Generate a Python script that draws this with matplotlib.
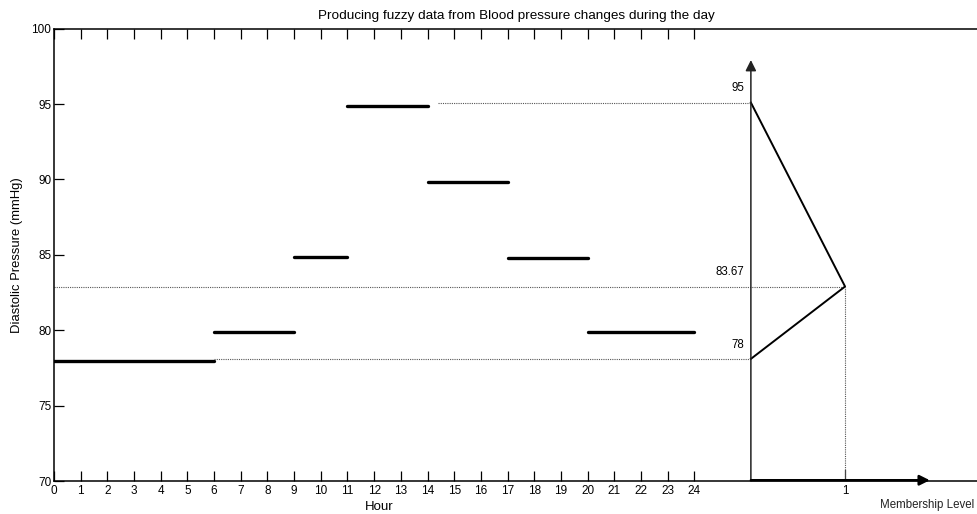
import matplotlib
matplotlib.use('Agg')
from matplotlib import pyplot as plt

plt.rcParams['font.family'] = ['Liberation Sans', 'DejaVu Sans']

# blood pressure during the day: one level per time block
seg_start = [0, 6, 9, 11, 14, 17, 20]
seg_end = [6, 9, 11, 14, 17, 20, 24]
seg_level = [77.95, 79.9, 84.85, 94.85, 89.85, 84.8, 79.85]

hours = list(range(0, 25))
y_ticks = [70, 75, 80, 85, 90, 95, 100]

# fuzzy number built from the readings (membership vs pressure)
member = [0, 1, 0]
member_bp = [95.1, 82.9, 78.1]
member_text = ['95', '83.67', '78']
guide_start = [14.4, 0, 6]   # where the dotted guides start (hour)

# where the membership axis sits inside the hour axis
m_origin = 26.12
m_unit = 3.53


def mx(m):
  return m_origin + m * m_unit


def main():
  fig = plt.figure(figsize=(9.78, 5.14), dpi=100)
  ax = fig.add_axes([54 / 978, 33 / 514, 924 / 978, 452.3 / 514])
  ax.set_xlim(0, 924 / 26.68)
  ax.set_ylim(70, 100)

  for s, e, v in zip(seg_start, seg_end, seg_level):
    ax.plot([s, e], [v, v], color='black', lw=2.4, solid_capstyle='round')

  # dotted guides
  for x0, v, m in zip(guide_start, member_bp, member):
    ax.plot([x0, mx(m)], [v, v], color='#555555', lw=0.8, ls=(0, (1, 1)))
  ax.plot([mx(1), mx(1)], [70, member_bp[1]], color='#555555', lw=0.8,
          ls=(0, (1, 1)))

  # membership triangle
  ax.plot([mx(m) for m in member], member_bp, color='black', lw=1.4)

  for v, t in zip(member_bp, member_text):
    ax.text(mx(0) - 0.25, v + 0.95, t, ha='right', va='center', fontsize=8.3)

  # membership axes with arrows
  ax.annotate('', xy=(mx(0), 97.92), xytext=(mx(0), 70),
              arrowprops=dict(arrowstyle='-|>', color='#222222', lw=1.1,
                              mutation_scale=16, shrinkA=0, shrinkB=0))
  ax.annotate('', xy=(mx(1.9), 70.05), xytext=(mx(0), 70.05),
              arrowprops=dict(arrowstyle='-|>', color='black', lw=1.8,
                              mutation_scale=15, shrinkA=0, shrinkB=0))
  ax.plot([mx(1), mx(1)], [70, 70.7], color='#444444', lw=0.9)
  ax.text(mx(1), 69.33, '1', ha='center', va='center', fontsize=8.3,
          clip_on=False)
  ax.text(32.72, 68.4, 'Membership Level', ha='center', va='center',
          fontsize=8.3, color='#222222', clip_on=False)

  ax.set_xticks(hours)
  ax.set_yticks(y_ticks)
  ax.tick_params(axis='x', direction='in', length=7.5, width=0.9, top=True,
                 bottom=True, labelsize=8.5, pad=3)
  ax.tick_params(axis='y', direction='in', length=7.5, width=0.9, left=True,
                 right=False, labelsize=8.5, pad=2)
  ax.spines['right'].set_visible(False)
  for side in ['left', 'top', 'bottom']:
    ax.spines[side].set_linewidth(1.1)

  ax.text(12.2, 68.28, 'Hour', ha='center', va='center', fontsize=9.5,
          clip_on=False)
  ax.set_ylabel('Diastolic Pressure (mmHg)', fontsize=9.4)
  ax.yaxis.set_label_coords(-0.034, 0.5)
  ax.set_title('Producing fuzzy data from Blood pressure changes during the day',
               fontsize=9.7, pad=7)

  fig.savefig('out.png', dpi=100)


if __name__ == '__main__':
  main()
